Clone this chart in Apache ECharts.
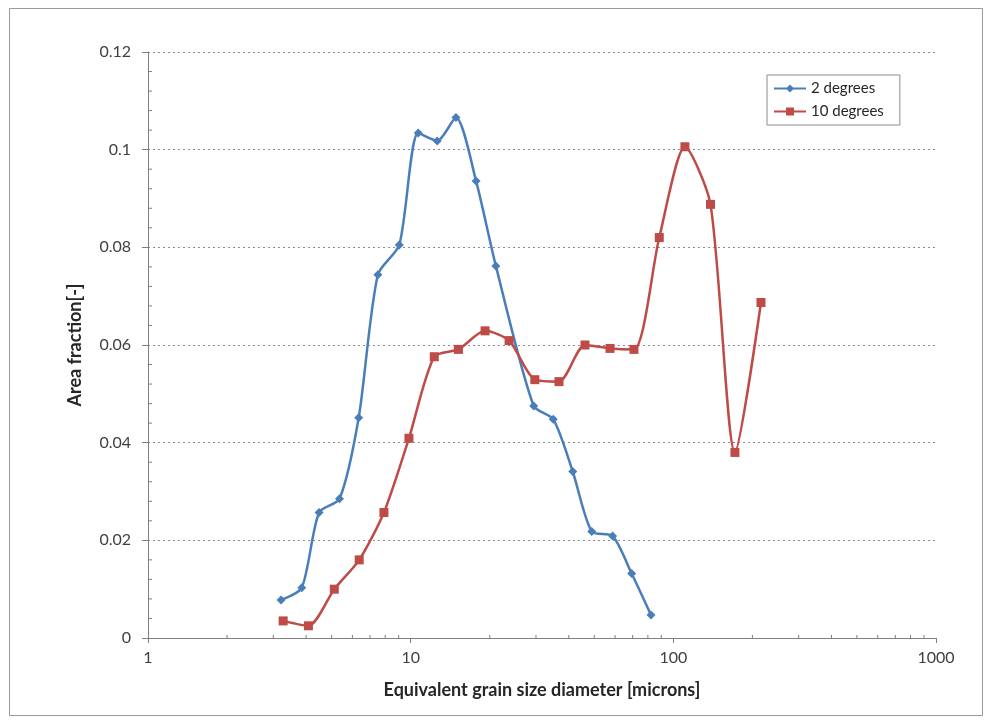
<!DOCTYPE html>
<html>
<head>
<meta charset="utf-8">
<script src="https://cdn.jsdelivr.net/npm/echarts@6/dist/echarts.min.js"></script>
<style>
html,body{margin:0;padding:0;background:#fff;}
#chart{width:987px;height:720px;}
</style>
</head>
<body>
<div id="chart"></div>
<script>
// Data
var seriesNames = ['2 degrees', '10 degrees'];
var blueX = [3.21, 3.85, 4.48, 5.36, 6.34, 7.5, 9.05, 10.69, 12.62, 14.87, 17.74, 21.1, 29.4, 34.9, 41.4, 48.9, 58.7, 69.4, 82.2];
var blueY = [0.0078, 0.0103, 0.0257, 0.0285, 0.0451, 0.0744, 0.0805, 0.1034, 0.1018, 0.1066, 0.0936, 0.0762, 0.0475, 0.0448, 0.0341, 0.0218, 0.0209, 0.0132, 0.0047];
var redX = [3.27, 4.08, 5.12, 6.37, 7.91, 9.85, 12.3, 15.2, 19.2, 23.7, 29.7, 36.7, 46.1, 57.4, 70.8, 88.4, 110.7, 138.5, 171.6, 215.6];
var redY = [0.0035, 0.0025, 0.0100, 0.0160, 0.0257, 0.0409, 0.0576, 0.0591, 0.0629, 0.0609, 0.0529, 0.0525, 0.0600, 0.0593, 0.0591, 0.0820, 0.1006, 0.0888, 0.0380, 0.0687];
var xMinorTicks = [2, 3, 4, 5, 6, 7, 8, 9, 20, 30, 40, 50, 60, 70, 80, 90, 200, 300, 400, 500, 600, 700, 800, 900];
var yMinorTicks = [0.004, 0.008, 0.012, 0.016, 0.024, 0.028, 0.032, 0.036, 0.044, 0.048, 0.052, 0.056, 0.064, 0.068, 0.072, 0.076, 0.084, 0.088, 0.092, 0.096, 0.104, 0.108, 0.112, 0.116];

function zip(xs, ys) { return xs.map(function (x, i) { return [x, ys[i]]; }); }

var FONT = 'Lato, "Open Sans", sans-serif';
var chart = echarts.init(document.getElementById('chart'), null, {renderer: 'canvas'});

function tickRenderer(dir) {
  return function (params, api) {
    var p = api.coord([api.value(0), api.value(1)]);
    var shape = dir === 'x'
      ? {x1: p[0], y1: p[1] - 3, x2: p[0], y2: p[1] + 1}
      : {x1: p[0], y1: p[1], x2: p[0] + 4, y2: p[1]};
    return {type: 'line', shape: shape, style: {stroke: '#7f7f7f', lineWidth: 1}};
  };
}

chart.setOption({
  animation: false,
  backgroundColor: '#ffffff',
  graphic: [{
    type: 'rect', left: 7, top: 6, silent: true,
    shape: {width: 973, height: 707},
    style: {fill: 'none', stroke: '#9a9a9a', lineWidth: 1}
  }],
  grid: {left: 148, right: 51, top: 52, bottom: 82, containLabel: false},
  legend: {
    data: seriesNames,
    orient: 'vertical',
    left: 767, top: 75,
    padding: [6, 16, 6, 6],
    itemGap: 8,
    itemWidth: 32, itemHeight: 10,
    borderColor: '#8c8c8c', borderWidth: 1,
    backgroundColor: '#fff',
    textStyle: {fontFamily: FONT, fontSize: 15, color: '#262626'}
  },
  xAxis: {
    type: 'log', logBase: 10, min: 1, max: 1000,
    name: 'Equivalent grain size diameter [microns]',
    nameLocation: 'middle', nameGap: 43,
    nameTextStyle: {fontFamily: FONT, fontSize: 18, fontWeight: 'bold', color: '#262626'},
    axisLine: {show: true, onZero: false, lineStyle: {color: '#7f7f7f', width: 1}},
    axisTick: {show: true, length: 5, lineStyle: {color: '#7f7f7f'}},
    axisLabel: {
      fontFamily: FONT, fontSize: 16, color: '#404040', margin: 12,
      formatter: function (v) { return String(Math.round(v)); }
    },
    splitLine: {show: false}
  },
  yAxis: {
    type: 'value', min: 0, max: 0.12, interval: 0.02,
    name: 'Area fraction[-]',
    nameLocation: 'middle', nameGap: 64,
    nameTextStyle: {fontFamily: FONT, fontSize: 18, fontWeight: 'bold', color: '#262626'},
    axisLine: {show: true, lineStyle: {color: '#7f7f7f', width: 1}},
    axisTick: {show: true, length: 6, lineStyle: {color: '#7f7f7f'}},
    axisLabel: {
      fontFamily: FONT, fontSize: 16, color: '#404040', margin: 17,
      formatter: function (v) { return String(+v.toFixed(2)); }
    },
    splitLine: {show: true, lineStyle: {color: '#8c8c8c', type: [2, 3], width: 1}}
  },
  series: [
    {
      name: seriesNames[0], type: 'line', data: zip(blueX, blueY),
      smooth: 0.25, symbol: 'diamond', symbolSize: 9,
      itemStyle: {color: '#4a7ebb'},
      lineStyle: {color: '#4a7ebb', width: 2.5}, z: 3
    },
    {
      name: seriesNames[1], type: 'line', data: zip(redX, redY),
      smooth: 0.25, symbol: 'rect', symbolSize: 9,
      itemStyle: {color: '#be4b48'},
      lineStyle: {color: '#be4b48', width: 2.5}, z: 4
    },
    {
      type: 'custom', silent: true, clip: false, z: 1,
      data: xMinorTicks.map(function (v) { return [v, 0]; }),
      renderItem: tickRenderer('x')
    },
    {
      type: 'custom', silent: true, clip: false, z: 1,
      data: yMinorTicks.map(function (v) { return [1, v]; }),
      renderItem: tickRenderer('y')
    }
  ]
});
</script>
</body>
</html>
